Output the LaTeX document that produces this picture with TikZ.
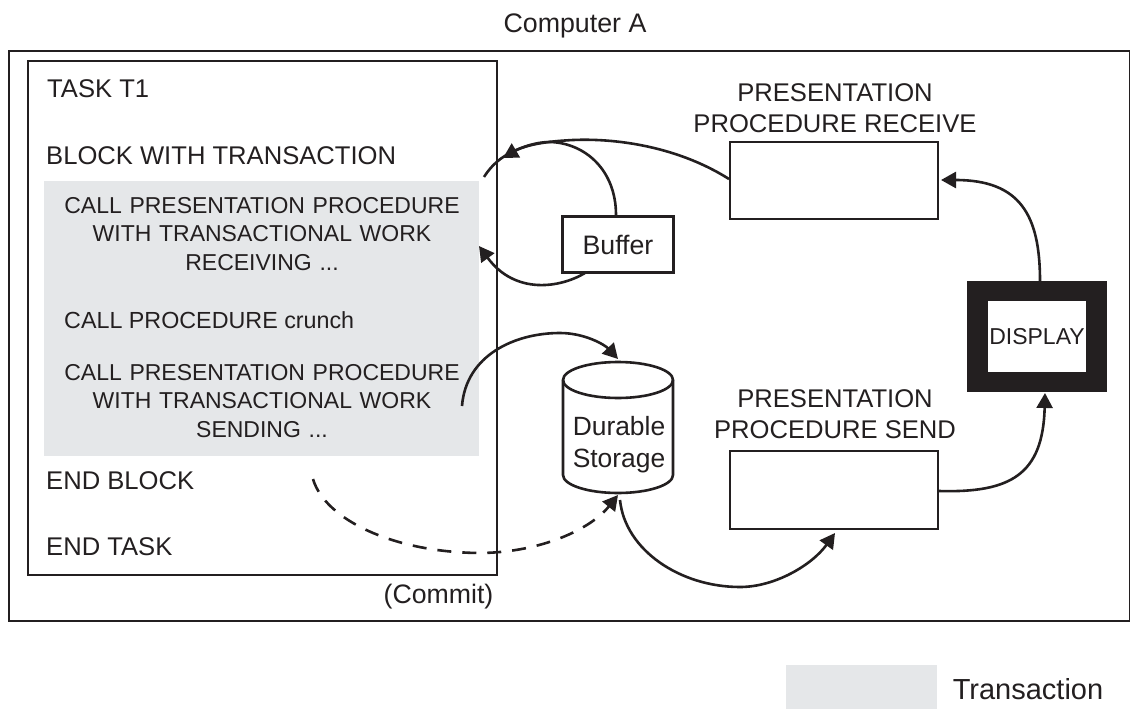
\documentclass[tikz,border=0pt]{standalone}
\usepackage{fontspec}
\setmainfont{Liberation Sans}
\usetikzlibrary{arrows.meta,shapes.geometric}
\definecolor{txgray}{RGB}{229,231,233}
\definecolor{ink}{RGB}{35,31,32}
\newcommand{\fz}[1]{\fontsize{#1}{#1}\selectfont}
\begin{document}
\begin{tikzpicture}[x=1pt,y=-1pt,
  lbl/.style={font=\fz{25.6},inner sep=0,align=center,text=ink},
  lbll/.style={lbl,anchor=west,align=left},
  box/.style={draw=ink,line width=2.6pt,fill=white,inner sep=0},
  line/.style={draw=ink,line width=2.6pt},
  conn/.style={line,-{Triangle[length=15pt,width=16pt]}}]
\useasboundingbox (0,0) rectangle (1130,709);
\node[lbl,font=\fz{26.8}] (title) at (575,26) {Computer A};
\node[draw=ink,line width=2.6pt,minimum width=1121,minimum height=570,inner sep=0] (comp) at (569.5,336) {};
\node[draw=ink,line width=2.6pt,minimum width=469,minimum height=514,inner sep=0] (task) at (262.5,318) {};
\node[fill=txgray,minimum width=435,minimum height=275,inner sep=0] (tx) at (261.5,318.5) {};
\node[lbll] (t1) at (47,89) {TASK T1};
\node[lbll] (blk) at (46,156) {BLOCK WITH TRANSACTION};
\node[lbl,font=\fz{23},text width=400] (c1) at (262,234) {CALL PRESENTATION PROCEDURE\\[5.5pt]WITH TRANSACTIONAL WORK\\[5.5pt]RECEIVING ...};
\node[lbll,font=\fz{23.3}] (c2) at (64,320) {CALL PROCEDURE crunch};
\node[lbl,font=\fz{23},text width=400] (c3) at (262,401) {CALL PRESENTATION PROCEDURE\\[5.5pt]WITH TRANSACTIONAL WORK\\[5.5pt]SENDING ...};
\node[lbll] (eb) at (46,480.5) {END BLOCK};
\node[lbll] (et) at (46,546.5) {END TASK};
\node[lbl,font=\fz{26.7}] (cm) at (438.5,597) {(Commit)};
\node[box,minimum width=111,minimum height=56] (buf) at (618,244.5) {};
\node[lbl,font=\fz{26.7}] (buft) at (618,245) {Buffer};
\node[box,minimum width=208,minimum height=77] (recv) at (834,180.5) {};
\node[lbl] (recvt) at (835,108) {PRESENTATION\\[5.5pt]PROCEDURE RECEIVE};
\node[box,minimum width=208,minimum height=78] (send) at (834,490) {};
\node[lbl] (sendt) at (835,414.5) {PRESENTATION\\[5.5pt]PROCEDURE SEND};
\node[draw=ink,line width=20.5pt,fill=white,minimum width=119,minimum height=91,inner sep=0] (disp) at (1037,336.5) {};
\node[lbl,font=\fz{23}] (dispt) at (1037,337) {DISPLAY};
% durable storage
\coordinate (sl) at (563,380); \coordinate (sr) at (673,380);
\coordinate (bl) at (563,475); \coordinate (br) at (673,475);
\draw[line,fill=white] (sl) -- (bl) arc[start angle=180,end angle=0,x radius=55,y radius=18] -- (sr) arc[start angle=0,end angle=-180,x radius=55,y radius=18] -- cycle;
\draw[line] (sl) arc[start angle=180,end angle=0,x radius=55,y radius=18];
\node[lbl,font=\fz{26.4}] (ds) at (619,444.5) {Durable\\[5.5pt]Storage};
\coordinate (dstop) at (618,359);
\coordinate (dsr) at (618,495);
\coordinate (dsb) at (620,500);
% connectors
\coordinate (a1) at (484,177); \coordinate (a2) at (729,179);
\coordinate (a3) at (503,158);
\draw[line] (a2) .. controls (680,148) and (620,138) .. (573,140) .. controls (535,142) and (503,147) .. (a1);
\coordinate (b0) at (616,215);
\draw[conn] (b0) .. controls (616,170) and (585,143) .. (550,142) .. controls (535,142) and (520,148) .. (a3);
\coordinate (c0) at (585,273); \coordinate (c1e) at (479,246);
\draw[conn] (c0) .. controls (560,288) and (515,295) .. (c1e);
\coordinate (d0) at (462,406);
\draw[conn] (d0) .. controls (466,355) and (515,333) .. (560,333) .. controls (585,333) and (605,345) .. (dstop);
\coordinate (e0) at (313,479);
\draw[conn,dash pattern=on 14pt off 11pt] (e0) .. controls (325,520) and (395,553) .. (482,553) .. controls (540,552) and (590,530) .. (dsr);
\coordinate (f1) at (835,533);
\draw[conn] (dsb) .. controls (625,550) and (680,587) .. (740,587) .. controls (775,587) and (812,565) .. (f1);
\coordinate (g0) at (939,491); \coordinate (g1) at (1045,393);
\draw[conn] (g0) .. controls (1010,493) and (1043,475) .. (g1);
\coordinate (h0) at (1040,281); \coordinate (h1) at (941,180);
\draw[conn] (h0) .. controls (1040,215) and (1020,180) .. (h1);
\node[fill=txgray,minimum width=151,minimum height=44,inner sep=0] (leg) at (861,687) {};
\node[lbl,font=\fz{29}] (legt) at (1028,689) {Transaction};
\end{tikzpicture}
\end{document}
